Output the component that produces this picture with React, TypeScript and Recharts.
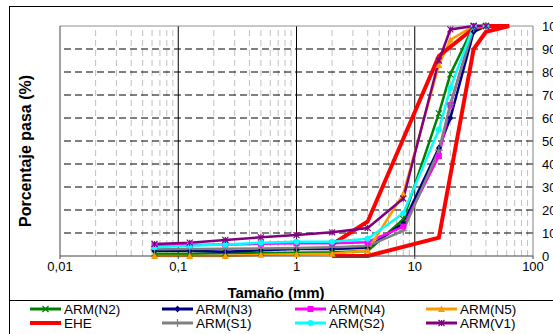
import React from 'react';
import { LineChart, Line, XAxis, YAxis, ReferenceLine } from 'recharts';

// sieve sizes (mm) and % passing for each sample
const sieves = [0.063, 0.125, 0.25, 0.5, 1, 2, 4, 8, 16, 20, 31.5, 40];
const armN2 = [1.0, 1.0, 1.2, 1.3, 1.4, 1.6, 2.2, 16, 62, 79, 100, 100];
const armN3 = [2.3, 2.3, 1.8, 2.5, 3.0, 3.0, 3.6, 14.2, 47, 60, 97.5, 100];
const armN4 = [4.5, 4.8, 5.0, 5.3, 5.5, 5.5, 6.0, 12.8, 43.5, 65.6, 100, 100];
const armN5 = [0, 0, 0, 0.5, 0.8, 1.0, 2.5, 27, 83, 94, 100, 100];
const armS1 = [2.9, 3.0, 3.1, 3.3, 3.5, 3.8, 4.3, 11, 46, 66, 99, 100];
const armS2 = [3.8, 4.5, 5.0, 5.8, 6.2, 6.2, 7.5, 18.6, 55, 73, 100, 100];
const armV1 = [5.2, 5.8, 7.0, 8.1, 9.1, 10.3, 12.2, 25, 85, 98.5, 100, 100];

// EHE envelope, drawn as one closed path (upper limit out, lower limit back)
const eheSizes = [2, 4, 16, 31.5, 40, 63, 40, 31.5, 16, 4, 2];
const eheValues = [5, 15, 87, 99, 100, 100, 97.5, 90, 8, 0, 0];

const xTicks = [0.01, 0.1, 1, 10, 100];
const yTicks = [0, 10, 20, 30, 40, 50, 60, 70, 80, 90, 100];

const minorX: number[] = [];
[0.01, 0.1, 1, 10].forEach((d) => {
  for (let k = 2; k <= 9; k++) minorX.push(+(d * k).toPrecision(3));
});

const FONT = '"Liberation Sans", Arial, sans-serif';

const toData = (xs: number[], ys: number[]) => xs.map((x, i) => ({ x, y: ys[i] }));

type Shape = 'x' | 'diamond' | 'square' | 'triangle' | 'plus' | 'circle' | 'star' | 'none';

const Marker = ({ cx, cy, shape, color }: { cx: number; cy: number; shape: Shape; color: string }) => {
  const s = 3;
  switch (shape) {
    case 'x':
      return (
        <g stroke={color} strokeWidth={1.2}>
          <line x1={cx - s} y1={cy - s} x2={cx + s} y2={cy + s} />
          <line x1={cx - s} y1={cy + s} x2={cx + s} y2={cy - s} />
        </g>
      );
    case 'star':
      return (
        <g stroke={color} strokeWidth={1.2}>
          <line x1={cx - s} y1={cy - s} x2={cx + s} y2={cy + s} />
          <line x1={cx - s} y1={cy + s} x2={cx + s} y2={cy - s} />
          <line x1={cx} y1={cy - s} x2={cx} y2={cy + s} />
        </g>
      );
    case 'diamond':
      return <polygon points={`${cx},${cy - s - 0.5} ${cx + s},${cy} ${cx},${cy + s + 0.5} ${cx - s},${cy}`} fill={color} />;
    case 'square':
      return <rect x={cx - s} y={cy - s} width={2 * s} height={2 * s} fill={color} />;
    case 'triangle':
      return <polygon points={`${cx},${cy - s - 0.5} ${cx + s + 0.5},${cy + s} ${cx - s - 0.5},${cy + s}`} fill={color} />;
    case 'plus':
      return (
        <g stroke={color} strokeWidth={1.2}>
          <line x1={cx - s - 1} y1={cy} x2={cx + s + 1} y2={cy} />
          <line x1={cx} y1={cy - s - 1} x2={cx} y2={cy + s + 1} />
        </g>
      );
    case 'circle':
      return <circle cx={cx} cy={cy} r={s} fill={color} />;
    default:
      return null;
  }
};

const dotFor = (shape: Shape, color: string) => (props: any) => (
  <g key={`${shape}-${props.index}`}>
    <Marker cx={props.cx} cy={props.cy} shape={shape} color={color} />
  </g>
);

const series = [
  { name: 'ARM(N2)', color: '#008000', shape: 'x' as Shape, xs: sieves, ys: armN2, w: 2.5 },
  { name: 'ARM(N3)', color: '#000080', shape: 'diamond' as Shape, xs: sieves, ys: armN3, w: 2.5 },
  { name: 'ARM(N4)', color: '#FF00FF', shape: 'square' as Shape, xs: sieves, ys: armN4, w: 2.5 },
  { name: 'ARM(N5)', color: '#FF9900', shape: 'triangle' as Shape, xs: sieves, ys: armN5, w: 2.5 },
  { name: 'EHE', color: '#FF0000', shape: 'none' as Shape, xs: eheSizes, ys: eheValues, w: 4 },
  { name: 'ARM(S1)', color: '#808080', shape: 'plus' as Shape, xs: sieves, ys: armS1, w: 2.5 },
  { name: 'ARM(S2)', color: '#00FFFF', shape: 'circle' as Shape, xs: sieves, ys: armS2, w: 2.5 },
  { name: 'ARM(V1)', color: '#800080', shape: 'star' as Shape, xs: sieves, ys: armV1, w: 2.5 },
];

const legendCols = [30, 162, 295, 426];
const legendRows = [309, 323];

const App = () => {
  return (
    <div style={{ position: 'absolute', left: 0, top: 0, width: 553, height: 334, overflow: 'hidden', fontFamily: FONT, background: '#fff' }}>
      {/* frame */}
      <div style={{ position: 'absolute', left: 9, top: 6, width: 600, height: 400, borderLeft: '1.5px solid #000', borderTop: '1.5px solid #000' }} />
      <div style={{ position: 'absolute', left: 9, top: 300, width: 600, height: 0, borderTop: '1.5px solid #000' }} />

      <div style={{ position: 'absolute', left: 0, top: 0 }}>
        <LineChart width={553} height={334} margin={{ top: 26, right: 0, bottom: 48, left: 59 }}>
          <XAxis
            dataKey="x"
            type="number"
            scale="log"
            domain={[0.01, 100]}
            ticks={xTicks}
            allowDataOverflow
            height={30}
            tickSize={3}
            tickMargin={3}
            tickFormatter={(v: number) => String(v).replace('.', ',')}
            tick={{ fill: '#000', fontSize: 13, fontFamily: FONT }}
            axisLine={{ stroke: '#444' }}
            tickLine={{ stroke: '#444' }}
          />
          <YAxis
            yAxisId="left"
            orientation="left"
            type="number"
            domain={[0, 100]}
            ticks={yTicks}
            width={1}
            tickSize={4}
            tickFormatter={() => ''}
            axisLine={{ stroke: '#444' }}
            tickLine={{ stroke: '#444' }}
          />
          <YAxis
            yAxisId="right"
            orientation="right"
            type="number"
            domain={[0, 100]}
            ticks={yTicks}
            width={20}
            tickSize={0}
            tickMargin={9}
            tick={{ fill: '#000', fontSize: 13, fontFamily: FONT, textAnchor: 'start' }}
            axisLine={{ stroke: '#808080' }}
            tickLine={false}
          />
          {minorX.map((v) => (
            <ReferenceLine key={`mx${v}`} x={v} yAxisId="right" stroke="#c0c0c0" strokeDasharray="6 4" />
          ))}
          {[0.1, 1, 10].map((v) => (
            <ReferenceLine key={`dx${v}`} x={v} yAxisId="right" stroke="#000" strokeWidth={1} />
          ))}
          {yTicks.slice(1, -1).map((v) => (
            <ReferenceLine key={`hy${v}`} y={v} yAxisId="right" stroke="#000" strokeDasharray="7 4" />
          ))}
          <ReferenceLine y={100} yAxisId="right" stroke="#909090" />
          {series.map((s) => (
            <Line
              key={s.name}
              data={toData(s.xs, s.ys)}
              dataKey="y"
              yAxisId="right"
              type="linear"
              stroke={s.color}
              strokeWidth={s.w}
              dot={s.shape === 'none' ? false : dotFor(s.shape, s.color)}
              activeDot={false}
              isAnimationActive={false}
            />
          ))}
        </LineChart>
      </div>

      {/* axis titles */}
      <svg style={{ position: 'absolute', left: 0, top: 0 }} width={553} height={334}>
        <text x={25} y={151} transform="rotate(-90 25 151)" textAnchor="middle" dominantBaseline="central" fontSize={16} fontWeight="bold" fontFamily={FONT} fill="#000">
          Porcentaje pasa (%)
        </text>
        <text x={276} y={292} textAnchor="middle" dominantBaseline="central" fontSize={15} fontWeight="bold" fontFamily={FONT} fill="#000">
          Tamaño (mm)
        </text>
        {series.map((s, i) => {
          const lx = legendCols[i % 4];
          const ly = legendRows[Math.floor(i / 4)];
          return (
            <g key={s.name}>
              <line x1={lx} y1={ly} x2={lx + 31} y2={ly} stroke={s.color} strokeWidth={s.shape === 'none' ? 4 : 3} />
              <Marker cx={lx + 15.5} cy={ly} shape={s.shape} color={s.color} />
              <text x={lx + 34} y={ly} dominantBaseline="central" fontSize={13.5} fontFamily={FONT} fill="#000">
                {s.name}
              </text>
            </g>
          );
        })}
      </svg>
    </div>
  );
};

export default App;
